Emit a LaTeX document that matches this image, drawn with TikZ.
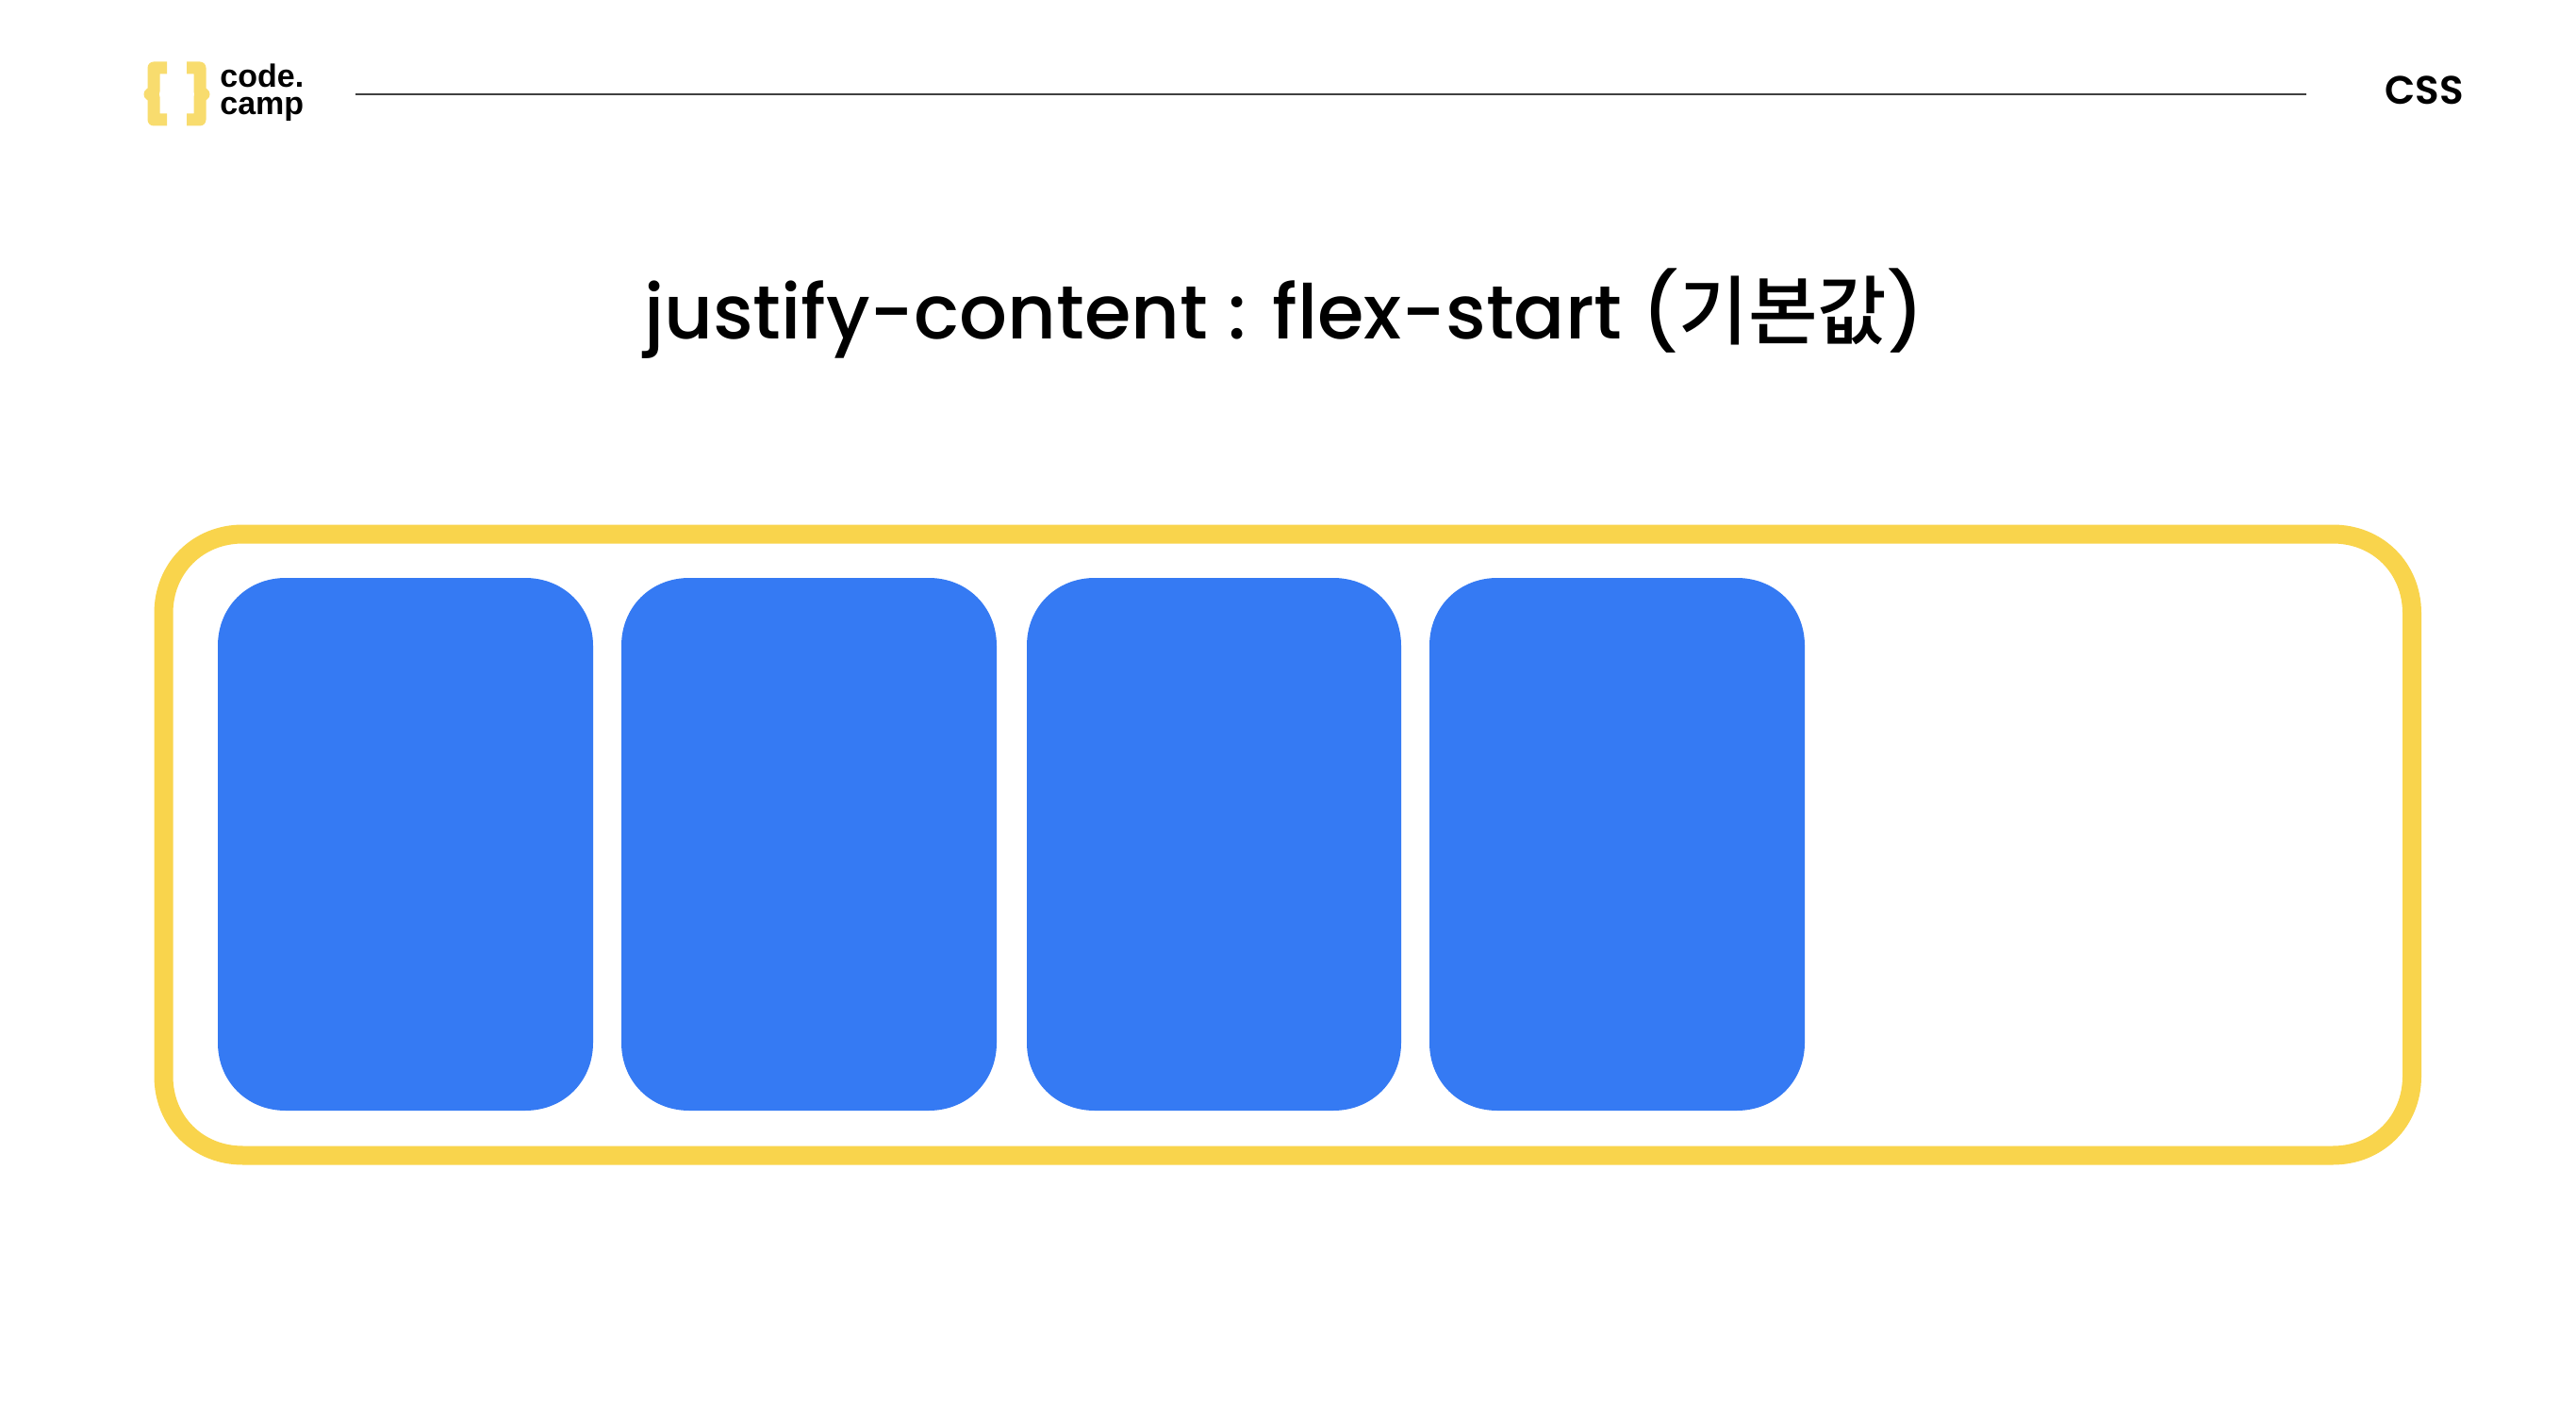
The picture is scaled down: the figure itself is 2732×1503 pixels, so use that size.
\documentclass[tikz,border=0pt]{standalone}
\usepackage{fontspec}
\setmainfont{Poppins}
\newfontfamily\logofont{Liberation Sans Bold}
\newfontfamily\krfont{Noto Sans CJK KR Medium}
\newfontfamily\cssfont{Poppins SemiBold}
\newfontfamily\titlefont{Poppins Medium}
\definecolor{frameyellow}{HTML}{F9D44C}
\definecolor{cardblue}{HTML}{357AF3}
\definecolor{logoyellow}{HTML}{F8DC6E}
\newcommand{\squirclepath}[5]{% x1,y1,x2,y2,r
  (#1+#5,#2) -- (#3-#5,#2)
  .. controls (#3-0.43*#5,#2) and (#3,#2+0.43*#5) .. (#3,#2+#5)
  -- (#3,#4-#5)
  .. controls (#3,#4-0.43*#5) and (#3-0.43*#5,#4) .. (#3-#5,#4)
  -- (#1+#5,#4)
  .. controls (#1+0.43*#5,#4) and (#1,#4-0.43*#5) .. (#1,#4-#5)
  -- (#1,#2+#5)
  .. controls (#1,#2+0.43*#5) and (#1+0.43*#5,#2) .. (#1+#5,#2) -- cycle}
\tikzset{
  framebox/.style={draw=frameyellow,line width=10pt},
  card/.style={fill=cardblue},
  brace/.style={draw=logoyellow,line width=6.5pt,line join=round},
  headline/.style={anchor=base,inner sep=0pt,text=black},
}
\begin{document}
\begin{tikzpicture}[x=0.5pt,y=-0.5pt]
\useasboundingbox[fill=white] (0,0) rectangle (2732,1503);
% header
\draw[brace] (177,72) -- (163,72) -- (163,97) -- (159,100) -- (163,103) -- (163,127) -- (177,127);
\draw[brace] (198,72) -- (212,72) -- (212,97) -- (216,100) -- (212,103) -- (212,127) -- (198,127);
\node[headline,anchor=base west,align=left,font=\logofont\fontsize{17}{14.5}\selectfont] (logo) at (233,122) {code.\\camp};
\draw[draw=black!75,line width=1pt] (377,100) -- (2446,100);
\node[headline,anchor=base west] (css) at (2529,111) {\cssfont\fontsize{21}{21}\selectfont CSS};
% title
\node[headline] (title) at (1362,359) {\titlefont\fontsize{40}{40}\selectfont justify-content : flex-start ({\krfont 기본값})};
% container
\draw[framebox] \squirclepath{173.5}{566.5}{2558}{1225.5}{84};
% cards
\fill[card] \squirclepath{231}{613}{629}{1178}{72};
\fill[card] \squirclepath{659}{613}{1057}{1178}{72};
\fill[card] \squirclepath{1089}{613}{1486}{1178}{72};
\fill[card] \squirclepath{1516}{613}{1914}{1178}{72};
\end{tikzpicture}
\end{document}
